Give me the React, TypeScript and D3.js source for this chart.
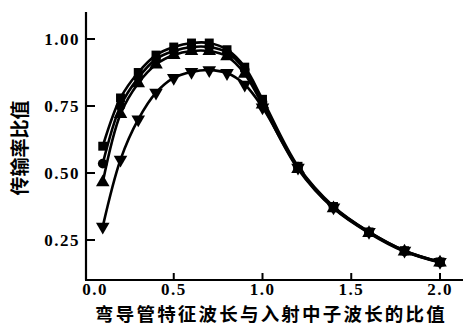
import React from "react";
import * as d3 from "d3";

const xValues = [0.1, 0.2, 0.3, 0.4, 0.5, 0.6, 0.7, 0.8, 0.9, 1.0, 1.2, 1.4, 1.6, 1.8, 2.0];
const seriesSquare = [0.6, 0.78, 0.875, 0.94, 0.97, 0.985, 0.985, 0.96, 0.895, 0.775, 0.525, 0.375, 0.28, 0.21, 0.168];
const seriesCircle = [0.535, 0.75, 0.855, 0.925, 0.955, 0.97, 0.97, 0.95, 0.885, 0.765, 0.52, 0.37, 0.278, 0.208, 0.167];
const seriesTriUp = [0.465, 0.72, 0.835, 0.905, 0.94, 0.955, 0.955, 0.935, 0.87, 0.755, 0.515, 0.368, 0.276, 0.207, 0.166];
const seriesTriDown = [0.3, 0.55, 0.7, 0.8, 0.855, 0.877, 0.884, 0.873, 0.83, 0.745, 0.52, 0.372, 0.28, 0.21, 0.168];
const seriesNames = ["square", "circle", "triUp", "triDown"];
const xTicks = [0, 0.5, 1.0, 1.5, 2.0];
const yTicks = [0.25, 0.5, 0.75, 1.0];
const xTitle = "弯导管特征波长与入射中子波长的比值";
const yTitle = "传输率比值";

export default function App() {
  const W = 467, H = 327;
  const x = d3.scaleLinear().domain([0, 2]).range([85, 440]);
  const y = d3.scaleLinear().domain([0.25, 1.0]).range([240, 39]);
  const axisX0 = 86, axisY0 = 280, yTop = 12, xRight = 463;
  const all = [seriesSquare, seriesCircle, seriesTriUp, seriesTriDown];
  const line = d3.line<number>().x((_, i) => x(xValues[i])).y((d) => y(d)).curve(d3.curveCatmullRom);
  const sym = [d3.symbolSquare, d3.symbolCircle, d3.symbolTriangle, d3.symbolTriangle];
  const sizes = [80, 75, 80, 80];
  const tickFont = "'Liberation Serif', serif";
  return (
    <svg width={W} height={H} style={{ position: "absolute", left: 0, top: 0, background: "#fff" }}>
      <rect width={W} height={H} fill="#fff" />
      <line x1={axisX0} y1={yTop} x2={axisX0} y2={axisY0} stroke="#000" strokeWidth={2.2} />
      <line x1={axisX0 - 1} y1={axisY0} x2={xRight} y2={axisY0} stroke="#000" strokeWidth={2.2} />
      {yTicks.map((t) => (
        <g key={"y" + t}>
          <line x1={axisX0} x2={axisX0 + 9} y1={y(t)} y2={y(t)} stroke="#000" strokeWidth={2} />
          <text x={80} y={y(t) + 6} textAnchor="end" fontFamily={tickFont} fontWeight="bold" fontSize={17} letterSpacing={1.5}>
            {t.toFixed(2)}
          </text>
        </g>
      ))}
      {xTicks.map((t) => (
        <g key={"x" + t}>
          {t > 0 && <line x1={x(t)} x2={x(t)} y1={axisY0} y2={axisY0 - 7} stroke="#000" strokeWidth={2} />}
          <text x={x(t) + (t === 0 ? 10 : 0)} y={295} textAnchor="middle" fontFamily={tickFont} fontWeight="bold" fontSize={17} letterSpacing={1.5}>
            {t.toFixed(1)}
          </text>
        </g>
      ))}
      <text x={271} y={321} textAnchor="middle" fontFamily="'Noto Sans CJK SC', sans-serif" fontWeight="bold" fontSize={18.5} letterSpacing={2.2}>
        {xTitle}
      </text>
      <text transform={`translate(27,148) rotate(-90)`} textAnchor="middle" fontFamily="'Noto Sans CJK SC', sans-serif" fontWeight="bold" fontSize={19}>
        {yTitle}
      </text>
      {all.map((s, si) => (
        <g key={seriesNames[si]}>
          <path d={line(s) || ""} fill="none" stroke="#000" strokeWidth={2.6} />
          {s.map((v, i) => (
            <path
              key={i}
              d={d3.symbol().type(sym[si]).size(sizes[si])() || ""}
              transform={`translate(${x(xValues[i])},${y(v)})${si === 3 ? " rotate(180)" : ""}`}
              fill="#000"
            />
          ))}
        </g>
      ))}
    </svg>
  );
}
